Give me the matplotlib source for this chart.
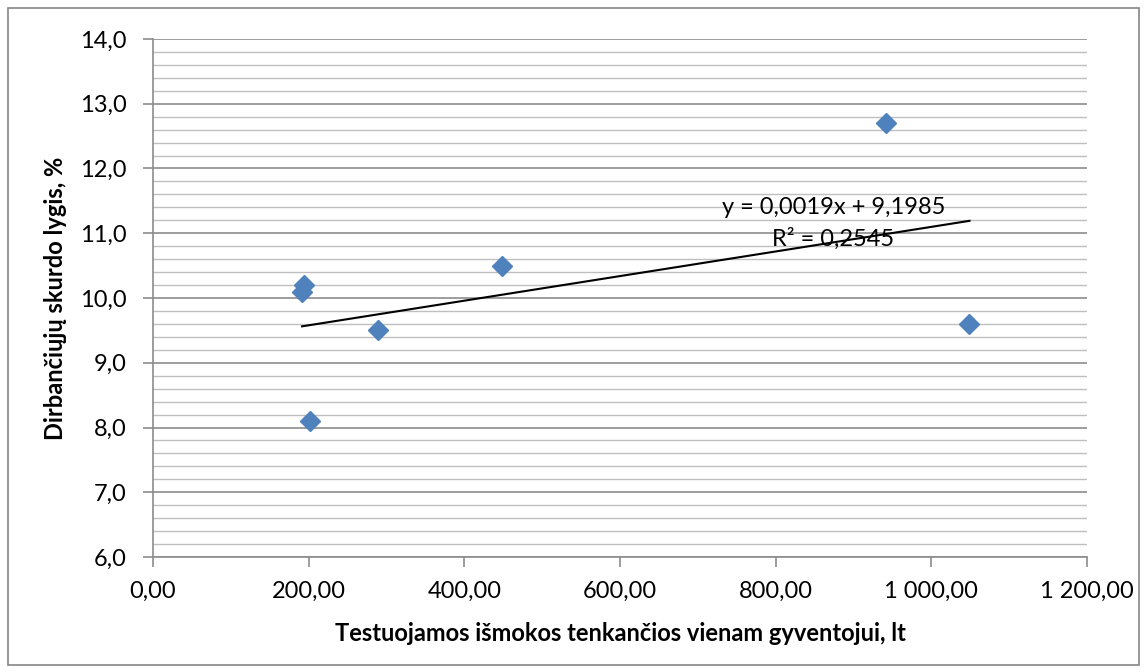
import matplotlib
matplotlib.use("Agg")
import matplotlib.pyplot as plt
from matplotlib.ticker import FuncFormatter, MultipleLocator
from matplotlib.patches import Rectangle

# data
benefits = [191.5, 194.0, 202.0, 289.0, 449.0, 942.0, 1049.0]
poverty = [10.1, 10.2, 8.1, 9.5, 10.5, 12.7, 9.6]
slope = 0.0019
intercept = 9.1985
r2 = 0.2545

plt.rcParams['font.family'] = ['Lato', 'DejaVu Sans']

fig = plt.figure(figsize=(11.47, 6.72), dpi=100)
ax = fig.add_axes([0.1334, 0.1711, 0.9477 - 0.1334, 0.942 - 0.1711])

# chart area border
fig.patches.append(Rectangle((8 / 1147, 7 / 672), 1131 / 1147, 657 / 672,
                             transform=fig.transFigure, fill=False,
                             edgecolor="#868686", linewidth=1.2))

ax.set_xlim(0, 1200)
ax.set_ylim(6, 14)
ax.xaxis.set_major_locator(MultipleLocator(200))
ax.yaxis.set_major_locator(MultipleLocator(1))
ax.yaxis.set_minor_locator(MultipleLocator(0.2))

def fmt_x(v, pos):
    s = f"{v:,.2f}"
    return s.replace(",", " ").replace(".", ",")

def fmt_y(v, pos):
    return f"{v:.1f}".replace(".", ",")

ax.xaxis.set_major_formatter(FuncFormatter(fmt_x))
ax.yaxis.set_major_formatter(FuncFormatter(fmt_y))

ax.grid(which="major", axis="y", color="#8c8c8c", linewidth=1.2)
ax.grid(which="minor", axis="y", color="#bfbfbf", linewidth=1.0)
ax.set_axisbelow(True)

for side in ["top", "right"]:
    ax.spines[side].set_visible(False)
for side in ["left", "bottom"]:
    ax.spines[side].set_color("#8c8c8c")
    ax.spines[side].set_linewidth(1.2)

ax.tick_params(axis="both", which="major", direction="out", length=7,
               width=1.2, color="#8c8c8c", labelsize=17, colors="#000000")
ax.tick_params(axis="y", which="minor", length=0)
ax.tick_params(axis="x", pad=10)
ax.tick_params(axis="y", pad=12)
for t in ax.get_xticklines() + ax.get_yticklines():
    t.set_markeredgecolor("#8c8c8c")

ax.plot(benefits, poverty, linestyle="none", marker="D", markersize=10,
        color="#4F81BD", markeredgecolor="#4F81BD", zorder=3)

x0, x1 = min(benefits), max(benefits)
ax.plot([x0, x1], [slope * x0 + intercept, slope * x1 + intercept],
        color="black", linewidth=1.5, zorder=4)

eq = f"y = {slope:.4f}x + {intercept:.4f}".replace(".", ",")
ax.text(874, 11.39, eq, ha="center", va="center", fontsize=17, zorder=5)
ax.text(874, 10.91, f"R² = {r2:.4f}".replace(".", ","), ha="center",
        va="center", fontsize=17, zorder=5)

ax.set_xlabel("Testuojamos išmokos tenkančios vienam gyventojui, lt",
              fontsize=17, fontweight="bold", labelpad=15)
ax.set_ylabel("Dirbančiųjų skurdo lygis, %", fontsize=17, fontweight="bold",
              labelpad=9)

fig.savefig("out.png", dpi=100)
